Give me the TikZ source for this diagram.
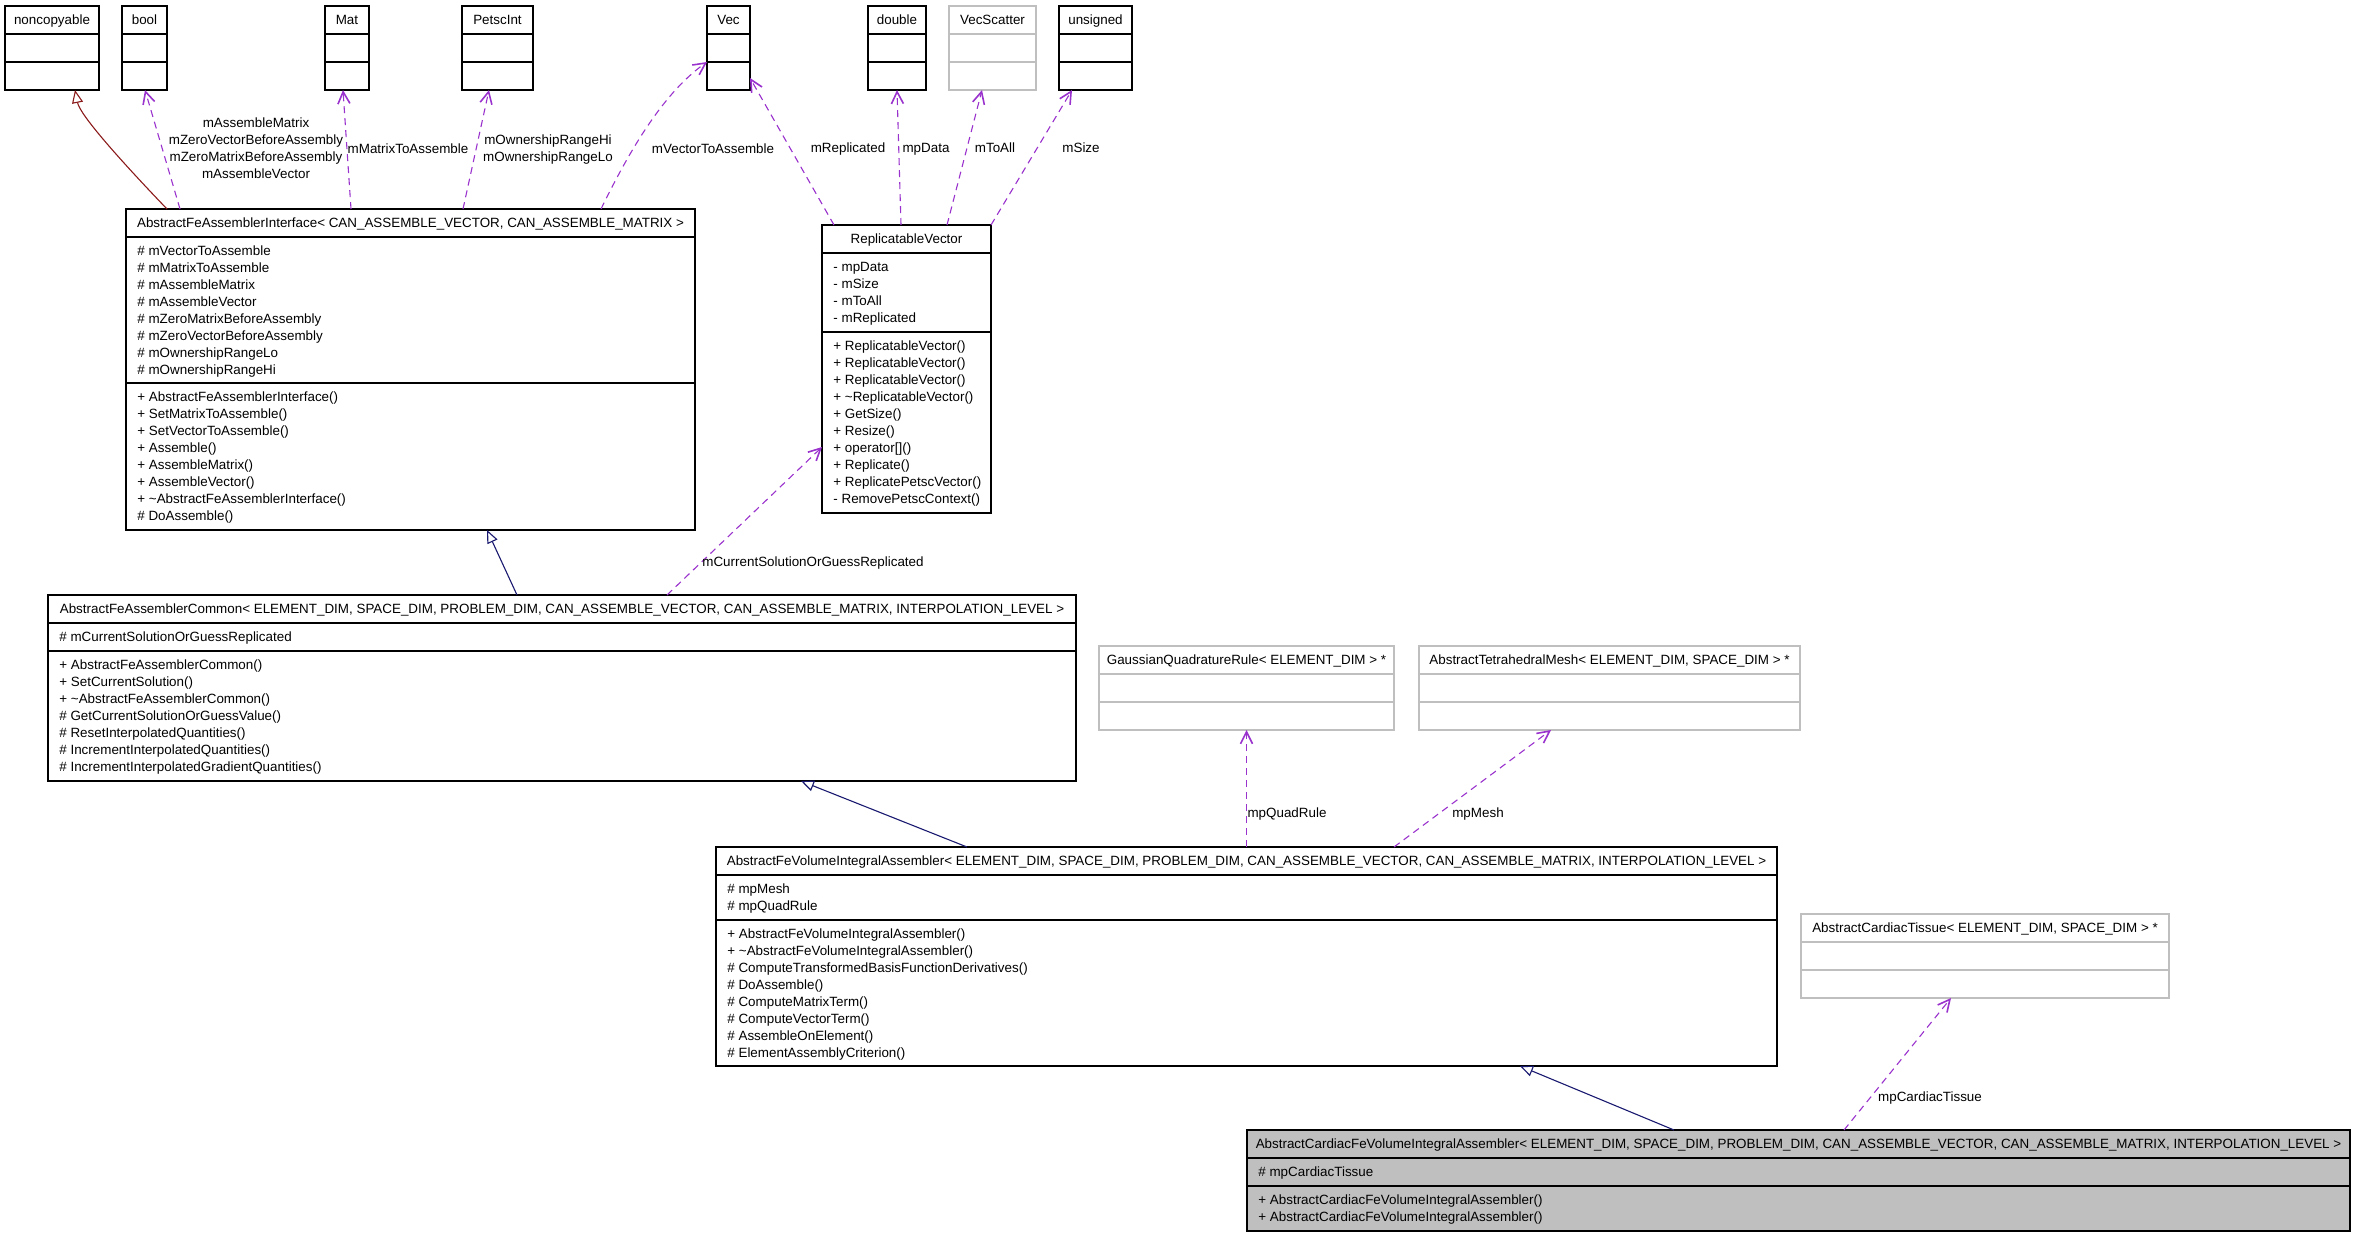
\documentclass[tikz,border=0pt]{standalone}
\usepackage{fontspec}
\setmainfont{Liberation Sans}
\usetikzlibrary{arrows.meta}
\definecolor{relpurple}{HTML}{9A32CD}
\definecolor{inhnavy}{HTML}{191970}
\definecolor{inhred}{HTML}{8B1A1A}
\definecolor{boxgray}{HTML}{BFBFBF}
\newcommand{\memberlist}[1]{\begin{tabular}{@{}l@{}}#1\end{tabular}}
\newcommand{\labellines}[1]{\begin{tabular}{@{}c@{}}#1\end{tabular}}
\tikzset{
  class box/.style={
    draw=black, line width=0.6pt, inner sep=0pt, outer sep=0pt, minimum height=42pt
  },
  ext box/.style={
    draw=boxgray, line width=0.6pt, inner sep=0pt, outer sep=0pt, minimum height=42pt
  },
  title/.style={
    anchor=base, inner sep=0pt, yshift=-9.4pt, font=\fontsize{6.7}{8.5}\selectfont
  },
  members/.style={
    anchor=north west, inner sep=0pt, xshift=5.5pt, yshift=-3pt,
    font=\fontsize{6.7}{8.5}\selectfont
  },
  edge label/.style={
    anchor=base, inner sep=0pt, yshift=-2.4pt, font=\fontsize{6.7}{8.5}\selectfont
  },
  multi label/.style={
    inner sep=0pt, font=\fontsize{6.7}{8.5}\selectfont
  },
  assoc/.style={
    draw=relpurple, line width=0.55pt, dash pattern=on 3.5pt off 2.5pt,
    -{Straight Barb[length=6pt, width=6pt, line width=0.8pt]}
  },
  inherit/.style={
    line width=0.55pt, -{Triangle[open, length=6.5pt, width=5.5pt]}
  }
}

\begin{document}
\begin{tikzpicture}[x={(0.5pt,0)}, y={(0,-0.5pt)}]
\useasboundingbox (0,0) rectangle (2359,1237);

% ---------------------------
% top row: member types
% ---------------------------
\node[class box, minimum width=47pt]   (ncp)   at (52,48) {};
\node[class box, minimum width=22.5pt] (bool)  at (144.5,48) {};
\node[class box, minimum width=22pt]   (mat)   at (347,48) {};
\node[class box, minimum width=35.5pt] (petsc) at (497.5,48) {};
\node[class box, minimum width=21.5pt] (vec)   at (728.5,48) {};
\node[class box, minimum width=29pt]   (dbl)   at (897,48) {};
\node[ext box,   minimum width=43.5pt] (scat)  at (992.5,48) {};
\node[class box, minimum width=36.5pt] (uns)   at (1095.5,48) {};

\node[title] at (ncp.north)   {noncopyable};
\node[title] at (bool.north)  {bool};
\node[title] at (mat.north)   {Mat};
\node[title] at (petsc.north) {PetscInt};
\node[title] at (vec.north)   {Vec};
\node[title] at (dbl.north)   {double};
\node[title] at (scat.north)  {VecScatter};
\node[title] at (uns.north)   {unsigned};

% ---------------------------
% classes
% ---------------------------
\node[class box, minimum width=284.5pt, minimum height=160.5pt] (iface) at (410.5,369.5) {};
\node[title] at (iface.north) {AbstractFeAssemblerInterface< CAN\_ASSEMBLE\_VECTOR, CAN\_ASSEMBLE\_MATRIX >};
\node[members] at (iface.west |- 0,237) {\memberlist{\# mVectorToAssemble\\ \# mMatrixToAssemble\\
  \# mAssembleMatrix\\ \# mAssembleVector\\ \# mZeroMatrixBeforeAssembly\\
  \# mZeroVectorBeforeAssembly\\ \# mOwnershipRangeLo\\ \# mOwnershipRangeHi}};
\node[members] at (iface.west |- 0,383) {\memberlist{+ AbstractFeAssemblerInterface()\\
  + SetMatrixToAssemble()\\ + SetVectorToAssemble()\\ + Assemble()\\ + AssembleMatrix()\\
  + AssembleVector()\\ + \textasciitilde AbstractFeAssemblerInterface()\\ \# DoAssemble()}};

\node[class box, minimum width=84.5pt, minimum height=144pt] (repvec) at (906.5,369) {};
\node[title] at (repvec.north) {ReplicatableVector};
\node[members] at (repvec.west |- 0,253) {\memberlist{- mpData\\ - mSize\\ - mToAll\\ - mReplicated}};
\node[members] at (repvec.west |- 0,332) {\memberlist{+ ReplicatableVector()\\
  + ReplicatableVector()\\ + ReplicatableVector()\\ + \textasciitilde ReplicatableVector()\\
  + GetSize()\\ + Resize()\\ + operator{[]}()\\ + Replicate()\\ + ReplicatePetscVector()\\
  - RemovePetscContext()}};

\node[class box, minimum width=514pt, minimum height=93pt] (common) at (562,688) {};
\node[title] at (common.north) {AbstractFeAssemblerCommon< ELEMENT\_DIM, SPACE\_DIM, PROBLEM\_DIM, CAN\_ASSEMBLE\_VECTOR, CAN\_ASSEMBLE\_MATRIX, INTERPOLATION\_LEVEL >};
\node[members] at (common.west |- 0,623) {\memberlist{\# mCurrentSolutionOrGuessReplicated}};
\node[members] at (common.west |- 0,651) {\memberlist{+ AbstractFeAssemblerCommon()\\
  + SetCurrentSolution()\\ + \textasciitilde AbstractFeAssemblerCommon()\\
  \# GetCurrentSolutionOrGuessValue()\\ \# ResetInterpolatedQuantities()\\
  \# IncrementInterpolatedQuantities()\\ \# IncrementInterpolatedGradientQuantities()}};

\node[ext box, minimum width=147.5pt] (gauss) at (1246.5,688) {};
\node[title] at (gauss.north) {GaussianQuadratureRule< ELEMENT\_DIM > *};
\node[ext box, minimum width=190.5pt] (tetra) at (1609.5,688) {};
\node[title] at (tetra.north) {AbstractTetrahedralMesh< ELEMENT\_DIM, SPACE\_DIM > *};

\node[class box, minimum width=530.5pt, minimum height=109.5pt] (volint) at (1246.5,956.5) {};
\node[title] at (volint.north) {AbstractFeVolumeIntegralAssembler< ELEMENT\_DIM, SPACE\_DIM, PROBLEM\_DIM, CAN\_ASSEMBLE\_VECTOR, CAN\_ASSEMBLE\_MATRIX, INTERPOLATION\_LEVEL >};
\node[members] at (volint.west |- 0,875) {\memberlist{\# mpMesh\\ \# mpQuadRule}};
\node[members] at (volint.west |- 0,920) {\memberlist{+ AbstractFeVolumeIntegralAssembler()\\
  + \textasciitilde AbstractFeVolumeIntegralAssembler()\\
  \# ComputeTransformedBasisFunctionDerivatives()\\ \# DoAssemble()\\
  \# ComputeMatrixTerm()\\ \# ComputeVectorTerm()\\ \# AssembleOnElement()\\
  \# ElementAssemblyCriterion()}};

\node[ext box, minimum width=184pt] (tissue) at (1985,956) {};
\node[title] at (tissue.north) {AbstractCardiacTissue< ELEMENT\_DIM, SPACE\_DIM > *};

\node[class box, fill=boxgray, minimum width=551.5pt, minimum height=50.5pt] (cardiac) at (1798.5,1180.5) {};
\node[title] at (cardiac.north) {AbstractCardiacFeVolumeIntegralAssembler< ELEMENT\_DIM, SPACE\_DIM, PROBLEM\_DIM, CAN\_ASSEMBLE\_VECTOR, CAN\_ASSEMBLE\_MATRIX, INTERPOLATION\_LEVEL >};
\node[members] at (cardiac.west |- 0,1158) {\memberlist{\# mpCardiacTissue}};
\node[members] at (cardiac.west |- 0,1186) {\memberlist{+ AbstractCardiacFeVolumeIntegralAssembler()\\
  + AbstractCardiacFeVolumeIntegralAssembler()}};

% compartment lines
\foreach \b/\ya/\yb in {ncp/34/62, bool/34/62, mat/34/62, petsc/34/62, vec/34/62,
    dbl/34/62, uns/34/62, iface/237/383, repvec/253/332, common/623/651,
    volint/875/920, cardiac/1158/1186} {
  \draw[line width=0.6pt] (\b.west |- 0,\ya) -- (\b.east |- 0,\ya);
  \draw[line width=0.6pt] (\b.west |- 0,\yb) -- (\b.east |- 0,\yb);
}
\foreach \b/\ya/\yb in {scat/34/62, gauss/674/702, tetra/674/702, tissue/942/970} {
  \draw[boxgray, line width=0.6pt] (\b.west |- 0,\ya) -- (\b.east |- 0,\ya);
  \draw[boxgray, line width=0.6pt] (\b.west |- 0,\yb) -- (\b.east |- 0,\yb);
}

% ---------------------------
% inheritance
% ---------------------------
\draw[inherit, inhred] (iface.north -| 167,0) .. controls (120,160) and (80,115) .. (ncp.south -| 75,0);
\draw[inherit, inhnavy] (common.north -| 517,0) -- (iface.south -| 487,0);
\draw[inherit, inhnavy] (volint.north -| 967,0) -- (common.south -| 801,0);
\draw[inherit, inhnavy] (cardiac.north -| 1674,0) -- (volint.south -| 1520,0);

% ---------------------------
% usage
% ---------------------------
\draw[assoc] (iface.north -| 180,0) -- (bool.south -| 145,0);
\draw[assoc] (iface.north -| 351,0) -- (mat.south -| 343,0);
\draw[assoc] (iface.north -| 463,0) -- (petsc.south -| 489,0);
\draw[assoc] (iface.north -| 601,0) .. controls (625,160) and (660,95) .. (vec.west |- 0,62);
\draw[assoc] (repvec.north -| 834,0) -- (vec.east |- 0,78);
\draw[assoc] (repvec.north -| 901,0) -- (dbl.south -| 897,0);
\draw[assoc] (repvec.north -| 947,0) -- (scat.south -| 982,0);
\draw[assoc] (repvec.north east) -- (uns.south -| 1072,0);
\draw[assoc] (common.north -| 667,0) -- (repvec.west |- 0,447);
\draw[assoc] (volint.north -| 1246.5,0) -- (gauss.south -| 1246.5,0);
\draw[assoc] (volint.north -| 1394,0) -- (tetra.south -| 1551,0);
\draw[assoc] (cardiac.north -| 1844,0) -- (tissue.south -| 1951,0);

\node[multi label] (lab-bool) at (256,150) {\labellines{mAssembleMatrix\\ mZeroVectorBeforeAssembly\\
  mZeroMatrixBeforeAssembly\\ mAssembleVector}};
\node[edge label] (lab-mat) at (408,149) {mMatrixToAssemble};
\node[multi label] (lab-petsc) at (548,150) {\labellines{mOwnershipRangeHi\\ mOwnershipRangeLo}};
\node[edge label] (lab-vec) at (713,149) {mVectorToAssemble};
\node[edge label] (lab-rep) at (848,148) {mReplicated};
\node[edge label] (lab-dbl) at (926,148) {mpData};
\node[edge label] (lab-scat) at (995,148) {mToAll};
\node[edge label] (lab-uns) at (1081,148) {mSize};
\node[edge label] (lab-cur) at (813,562) {mCurrentSolutionOrGuessReplicated};
\node[edge label] (lab-quad) at (1287,813) {mpQuadRule};
\node[edge label] (lab-mesh) at (1478,813) {mpMesh};
\node[edge label] (lab-tis) at (1930,1097) {mpCardiacTissue};

\end{tikzpicture}
\end{document}
